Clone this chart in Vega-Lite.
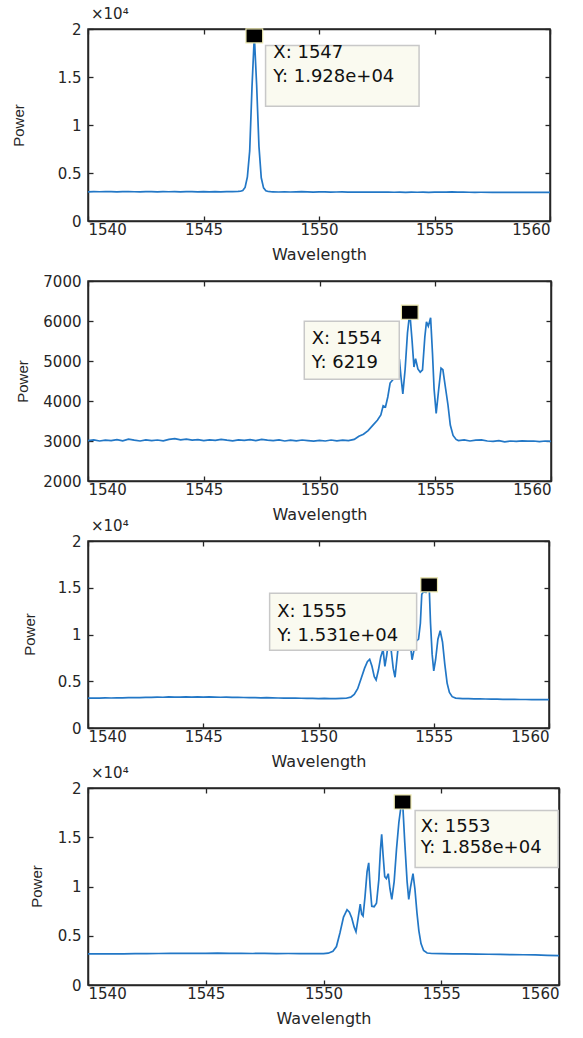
{
  "$schema": "https://vega.github.io/schema/vega-lite/v6.json",
  "padding": {"left": 10, "top": 6, "right": 5, "bottom": 5},
  "background": "white",
  "config": {
    "font": "DejaVu Sans",
    "view": {"stroke": "#262626", "strokeWidth": 1.5},
    "axis": {"grid": false, "domain": true, "domainColor": "#262626", "domainWidth": 1.5, "tickColor": "#262626", "tickSize": -5, "tickWidth": 1.3, "labelColor": "#262626", "labelFont": "DejaVu Sans", "labelFontSize": 15, "titleColor": "#262626", "titleFont": "DejaVu Sans", "titleFontSize": 16, "titleFontWeight": "normal"},
    "axisX": {"labelPadding": 6, "titlePadding": 9},
    "axisY": {"labelPadding": 12, "titleFont": "Liberation Sans", "titleFontSize": 15, "titleBaseline": "middle", "titleAngle": -90}
  },
  "datasets": {
    "p1": [
      {"x": 1540.0, "y": 3040}, {"x": 1540.25, "y": 3060}, {"x": 1540.5, "y": 3045}, {"x": 1540.75, "y": 3070}, {"x": 1541.0, "y": 3050},
      {"x": 1541.25, "y": 3030}, {"x": 1541.5, "y": 3055}, {"x": 1541.75, "y": 3075}, {"x": 1542.0, "y": 3045}, {"x": 1542.25, "y": 3030},
      {"x": 1542.5, "y": 3060}, {"x": 1542.75, "y": 3070}, {"x": 1543.0, "y": 3040}, {"x": 1543.25, "y": 3055}, {"x": 1543.5, "y": 3045},
      {"x": 1543.75, "y": 3065}, {"x": 1544.0, "y": 3035}, {"x": 1544.25, "y": 3055}, {"x": 1544.5, "y": 3070}, {"x": 1544.75, "y": 3040},
      {"x": 1545.0, "y": 3060}, {"x": 1545.25, "y": 3035}, {"x": 1545.5, "y": 3050}, {"x": 1545.75, "y": 3040}, {"x": 1546.0, "y": 3055},
      {"x": 1546.25, "y": 3060}, {"x": 1546.5, "y": 3080}, {"x": 1546.6, "y": 3100}, {"x": 1546.7, "y": 3170}, {"x": 1546.8, "y": 3500},
      {"x": 1546.9, "y": 4600}, {"x": 1547.0, "y": 7300}, {"x": 1547.1, "y": 14000}, {"x": 1547.2, "y": 19280}, {"x": 1547.3, "y": 14200},
      {"x": 1547.4, "y": 7800}, {"x": 1547.5, "y": 4500}, {"x": 1547.6, "y": 3450}, {"x": 1547.7, "y": 3150}, {"x": 1547.8, "y": 3070},
      {"x": 1547.9, "y": 3050}, {"x": 1548.0, "y": 3040}, {"x": 1548.25, "y": 3020}, {"x": 1548.5, "y": 3045}, {"x": 1548.75, "y": 3020},
      {"x": 1549.0, "y": 3035}, {"x": 1549.25, "y": 3050}, {"x": 1549.5, "y": 3025}, {"x": 1549.75, "y": 3010}, {"x": 1550.0, "y": 3030},
      {"x": 1550.25, "y": 3035}, {"x": 1550.5, "y": 3010}, {"x": 1550.75, "y": 3020}, {"x": 1551.0, "y": 3025}, {"x": 1551.25, "y": 3010},
      {"x": 1551.5, "y": 3020}, {"x": 1551.75, "y": 3005}, {"x": 1552.0, "y": 3015}, {"x": 1552.25, "y": 3000}, {"x": 1552.5, "y": 3010},
      {"x": 1552.75, "y": 3000}, {"x": 1553.0, "y": 3005}, {"x": 1553.25, "y": 2995}, {"x": 1553.5, "y": 3005}, {"x": 1553.75, "y": 2990},
      {"x": 1554.0, "y": 3000}, {"x": 1554.25, "y": 2995}, {"x": 1554.5, "y": 3000}, {"x": 1554.75, "y": 2990}, {"x": 1555.0, "y": 3000},
      {"x": 1555.25, "y": 3020}, {"x": 1555.5, "y": 3005}, {"x": 1555.75, "y": 3025}, {"x": 1556.0, "y": 3010}, {"x": 1556.25, "y": 3020},
      {"x": 1556.5, "y": 2995}, {"x": 1556.75, "y": 2990}, {"x": 1557.0, "y": 2995}, {"x": 1557.5, "y": 2990}, {"x": 1558.0, "y": 2985},
      {"x": 1558.5, "y": 2990}, {"x": 1559.0, "y": 2985}, {"x": 1559.5, "y": 2980}, {"x": 1560.0, "y": 2985}
    ],
    "p2": [
      {"x": 1540.0, "y": 3010}, {"x": 1540.25, "y": 3030}, {"x": 1540.5, "y": 3000}, {"x": 1540.75, "y": 3020}, {"x": 1541.0, "y": 3010},
      {"x": 1541.25, "y": 3035}, {"x": 1541.5, "y": 3005}, {"x": 1541.75, "y": 3045}, {"x": 1542.0, "y": 3020}, {"x": 1542.25, "y": 3000},
      {"x": 1542.5, "y": 3030}, {"x": 1542.75, "y": 3010}, {"x": 1543.0, "y": 3025}, {"x": 1543.25, "y": 3005}, {"x": 1543.5, "y": 3040},
      {"x": 1543.75, "y": 3060}, {"x": 1544.0, "y": 3030}, {"x": 1544.25, "y": 3045}, {"x": 1544.5, "y": 3020}, {"x": 1544.75, "y": 3035},
      {"x": 1545.0, "y": 3010}, {"x": 1545.25, "y": 3030}, {"x": 1545.5, "y": 3015}, {"x": 1545.75, "y": 3040}, {"x": 1546.0, "y": 3020},
      {"x": 1546.25, "y": 3005}, {"x": 1546.5, "y": 3030}, {"x": 1546.75, "y": 3015}, {"x": 1547.0, "y": 3035}, {"x": 1547.25, "y": 3010},
      {"x": 1547.5, "y": 3040}, {"x": 1547.75, "y": 3020}, {"x": 1548.0, "y": 3010}, {"x": 1548.25, "y": 3030}, {"x": 1548.5, "y": 3000},
      {"x": 1548.75, "y": 3020}, {"x": 1549.0, "y": 3005}, {"x": 1549.25, "y": 3025}, {"x": 1549.5, "y": 3010}, {"x": 1549.75, "y": 2995},
      {"x": 1550.0, "y": 3015}, {"x": 1550.25, "y": 3000}, {"x": 1550.5, "y": 3025}, {"x": 1550.75, "y": 3005}, {"x": 1551.0, "y": 3020},
      {"x": 1551.25, "y": 3010}, {"x": 1551.5, "y": 3040}, {"x": 1551.7, "y": 3120}, {"x": 1551.9, "y": 3170}, {"x": 1552.1, "y": 3260},
      {"x": 1552.3, "y": 3390}, {"x": 1552.5, "y": 3520}, {"x": 1552.65, "y": 3650}, {"x": 1552.75, "y": 3880}, {"x": 1552.85, "y": 3850},
      {"x": 1552.95, "y": 4100}, {"x": 1553.05, "y": 4450}, {"x": 1553.15, "y": 4520}, {"x": 1553.25, "y": 4580}, {"x": 1553.35, "y": 4800},
      {"x": 1553.45, "y": 5050}, {"x": 1553.52, "y": 4600}, {"x": 1553.6, "y": 4180}, {"x": 1553.7, "y": 4800}, {"x": 1553.8, "y": 5700},
      {"x": 1553.9, "y": 6219}, {"x": 1554.0, "y": 5500}, {"x": 1554.08, "y": 4850}, {"x": 1554.15, "y": 5060}, {"x": 1554.25, "y": 4800},
      {"x": 1554.35, "y": 4720}, {"x": 1554.45, "y": 4780}, {"x": 1554.55, "y": 5600}, {"x": 1554.62, "y": 5980}, {"x": 1554.7, "y": 5870},
      {"x": 1554.8, "y": 6080}, {"x": 1554.88, "y": 5200}, {"x": 1554.95, "y": 4300}, {"x": 1555.04, "y": 3690}, {"x": 1555.15, "y": 4300},
      {"x": 1555.25, "y": 4820}, {"x": 1555.33, "y": 4780}, {"x": 1555.45, "y": 4300}, {"x": 1555.55, "y": 3900}, {"x": 1555.65, "y": 3400},
      {"x": 1555.77, "y": 3140}, {"x": 1555.9, "y": 3040}, {"x": 1556.0, "y": 3010}, {"x": 1556.25, "y": 3030}, {"x": 1556.5, "y": 3000},
      {"x": 1556.75, "y": 3020}, {"x": 1557.0, "y": 3030}, {"x": 1557.25, "y": 3000}, {"x": 1557.5, "y": 2990}, {"x": 1557.75, "y": 3010},
      {"x": 1558.0, "y": 2980}, {"x": 1558.25, "y": 3000}, {"x": 1558.5, "y": 2990}, {"x": 1558.75, "y": 3005}, {"x": 1559.0, "y": 2995},
      {"x": 1559.25, "y": 3000}, {"x": 1559.5, "y": 2985}, {"x": 1559.75, "y": 3000}, {"x": 1560.0, "y": 2990}
    ],
    "p3": [
      {"x": 1540.0, "y": 3200}, {"x": 1540.25, "y": 3210}, {"x": 1540.5, "y": 3190}, {"x": 1540.75, "y": 3220}, {"x": 1541.0, "y": 3210},
      {"x": 1541.25, "y": 3230}, {"x": 1541.5, "y": 3220}, {"x": 1541.75, "y": 3240}, {"x": 1542.0, "y": 3250}, {"x": 1542.25, "y": 3240},
      {"x": 1542.5, "y": 3270}, {"x": 1542.75, "y": 3280}, {"x": 1543.0, "y": 3300}, {"x": 1543.25, "y": 3290}, {"x": 1543.5, "y": 3320},
      {"x": 1543.75, "y": 3300}, {"x": 1544.0, "y": 3310}, {"x": 1544.25, "y": 3330}, {"x": 1544.5, "y": 3310}, {"x": 1544.75, "y": 3320},
      {"x": 1545.0, "y": 3300}, {"x": 1545.25, "y": 3320}, {"x": 1545.5, "y": 3310}, {"x": 1545.75, "y": 3290}, {"x": 1546.0, "y": 3300},
      {"x": 1546.25, "y": 3280}, {"x": 1546.5, "y": 3270}, {"x": 1546.75, "y": 3260}, {"x": 1547.0, "y": 3250}, {"x": 1547.25, "y": 3240},
      {"x": 1547.5, "y": 3230}, {"x": 1547.75, "y": 3240}, {"x": 1548.0, "y": 3220}, {"x": 1548.25, "y": 3210}, {"x": 1548.5, "y": 3200},
      {"x": 1548.75, "y": 3200}, {"x": 1549.0, "y": 3190}, {"x": 1549.25, "y": 3180}, {"x": 1549.5, "y": 3170}, {"x": 1549.75, "y": 3160},
      {"x": 1550.0, "y": 3150}, {"x": 1550.25, "y": 3160}, {"x": 1550.5, "y": 3150}, {"x": 1550.75, "y": 3140}, {"x": 1551.0, "y": 3160},
      {"x": 1551.2, "y": 3180}, {"x": 1551.4, "y": 3300}, {"x": 1551.55, "y": 3600}, {"x": 1551.7, "y": 4200}, {"x": 1551.85, "y": 5300},
      {"x": 1552.0, "y": 6400}, {"x": 1552.12, "y": 7100}, {"x": 1552.22, "y": 7350}, {"x": 1552.32, "y": 6600}, {"x": 1552.42, "y": 5500},
      {"x": 1552.5, "y": 5150}, {"x": 1552.6, "y": 6200}, {"x": 1552.7, "y": 7600}, {"x": 1552.8, "y": 8400}, {"x": 1552.88, "y": 6600},
      {"x": 1552.96, "y": 7800}, {"x": 1553.04, "y": 9300}, {"x": 1553.14, "y": 8600}, {"x": 1553.24, "y": 6400}, {"x": 1553.32, "y": 5430},
      {"x": 1553.42, "y": 7800}, {"x": 1553.52, "y": 10200}, {"x": 1553.62, "y": 11000}, {"x": 1553.72, "y": 9800}, {"x": 1553.82, "y": 9400},
      {"x": 1553.92, "y": 10400}, {"x": 1554.0, "y": 8600}, {"x": 1554.06, "y": 7300}, {"x": 1554.14, "y": 8300}, {"x": 1554.24, "y": 9300},
      {"x": 1554.34, "y": 9500}, {"x": 1554.42, "y": 11200}, {"x": 1554.48, "y": 14300}, {"x": 1554.56, "y": 14600}, {"x": 1554.66, "y": 14500},
      {"x": 1554.74, "y": 14800}, {"x": 1554.8, "y": 15310}, {"x": 1554.86, "y": 11200}, {"x": 1554.93, "y": 7900}, {"x": 1555.0, "y": 6100},
      {"x": 1555.08, "y": 7300}, {"x": 1555.18, "y": 9500}, {"x": 1555.28, "y": 10400}, {"x": 1555.38, "y": 9200}, {"x": 1555.48, "y": 6800},
      {"x": 1555.58, "y": 4800}, {"x": 1555.68, "y": 3800}, {"x": 1555.8, "y": 3350}, {"x": 1555.95, "y": 3200}, {"x": 1556.25, "y": 3150},
      {"x": 1556.5, "y": 3140}, {"x": 1556.75, "y": 3120}, {"x": 1557.0, "y": 3110}, {"x": 1557.25, "y": 3100}, {"x": 1557.5, "y": 3090},
      {"x": 1557.75, "y": 3080}, {"x": 1558.0, "y": 3070}, {"x": 1558.25, "y": 3060}, {"x": 1558.5, "y": 3060}, {"x": 1558.75, "y": 3050},
      {"x": 1559.0, "y": 3050}, {"x": 1559.25, "y": 3040}, {"x": 1559.5, "y": 3040}, {"x": 1559.75, "y": 3030}, {"x": 1560.0, "y": 3030}
    ],
    "p4": [
      {"x": 1540.0, "y": 3150}, {"x": 1540.5, "y": 3160}, {"x": 1541.0, "y": 3170}, {"x": 1541.5, "y": 3160}, {"x": 1542.0, "y": 3180},
      {"x": 1542.5, "y": 3190}, {"x": 1543.0, "y": 3200}, {"x": 1543.5, "y": 3210}, {"x": 1544.0, "y": 3220}, {"x": 1544.5, "y": 3210},
      {"x": 1545.0, "y": 3220}, {"x": 1545.5, "y": 3230}, {"x": 1546.0, "y": 3210}, {"x": 1546.5, "y": 3220}, {"x": 1547.0, "y": 3200},
      {"x": 1547.5, "y": 3210}, {"x": 1548.0, "y": 3190}, {"x": 1548.5, "y": 3200}, {"x": 1549.0, "y": 3190}, {"x": 1549.5, "y": 3180},
      {"x": 1550.0, "y": 3190}, {"x": 1550.2, "y": 3230}, {"x": 1550.4, "y": 3420}, {"x": 1550.55, "y": 3900}, {"x": 1550.7, "y": 5300},
      {"x": 1550.85, "y": 6900}, {"x": 1551.0, "y": 7650}, {"x": 1551.1, "y": 7400}, {"x": 1551.2, "y": 6800}, {"x": 1551.3, "y": 5900},
      {"x": 1551.38, "y": 5400}, {"x": 1551.47, "y": 6800}, {"x": 1551.56, "y": 8200}, {"x": 1551.62, "y": 7200}, {"x": 1551.68, "y": 7000},
      {"x": 1551.76, "y": 8900}, {"x": 1551.85, "y": 11500}, {"x": 1551.92, "y": 12400}, {"x": 1551.98, "y": 10000}, {"x": 1552.05, "y": 8000},
      {"x": 1552.15, "y": 7950}, {"x": 1552.25, "y": 8300}, {"x": 1552.35, "y": 10700}, {"x": 1552.42, "y": 13800}, {"x": 1552.47, "y": 15300},
      {"x": 1552.53, "y": 13200}, {"x": 1552.6, "y": 11000}, {"x": 1552.67, "y": 10800}, {"x": 1552.75, "y": 11300}, {"x": 1552.82, "y": 9800},
      {"x": 1552.9, "y": 8700}, {"x": 1553.0, "y": 10500}, {"x": 1553.1, "y": 13800}, {"x": 1553.2, "y": 16500}, {"x": 1553.3, "y": 18300},
      {"x": 1553.36, "y": 18580}, {"x": 1553.45, "y": 14500}, {"x": 1553.55, "y": 10500}, {"x": 1553.62, "y": 8700}, {"x": 1553.7, "y": 10000},
      {"x": 1553.8, "y": 11300}, {"x": 1553.88, "y": 9800}, {"x": 1553.97, "y": 7300}, {"x": 1554.05, "y": 5500}, {"x": 1554.14, "y": 4200},
      {"x": 1554.25, "y": 3500}, {"x": 1554.4, "y": 3250}, {"x": 1554.6, "y": 3200}, {"x": 1555.0, "y": 3190}, {"x": 1555.5, "y": 3170},
      {"x": 1556.0, "y": 3150}, {"x": 1556.5, "y": 3140}, {"x": 1557.0, "y": 3120}, {"x": 1557.5, "y": 3100}, {"x": 1558.0, "y": 3090},
      {"x": 1558.5, "y": 3070}, {"x": 1559.0, "y": 3050}, {"x": 1559.5, "y": 3010}, {"x": 1560.0, "y": 2980}
    ],
    "tips": [
      {"panel": 1, "x": 1547.2, "y": 19280, "lx": "X: 1547", "ly": "Y: 1.928e+04"},
      {"panel": 2, "x": 1553.9, "y": 6219, "lx": "X: 1554", "ly": "Y: 6219"},
      {"panel": 3, "x": 1554.8, "y": 15310, "lx": "X: 1555", "ly": "Y: 1.531e+04"},
      {"panel": 4, "x": 1553.36, "y": 18580, "lx": "X: 1553", "ly": "Y: 1.858e+04"}
    ],
    "exps": [
      {"panel": 1, "x": 1540, "y": 20000, "t": "×10⁴"},
      {"panel": 3, "x": 1540, "y": 20000, "t": "×10⁴"},
      {"panel": 4, "x": 1540, "y": 20000, "t": "×10⁴"}
    ]
  },
  "bounds": "flush",
  "spacing": 60,
  "vconcat": [
    {
      "width": 462, "height": 192,
      "layer": [
        {"data": {"name": "p1"}, "mark": {"type": "line", "color": "#2277c6", "strokeWidth": 1.7, "clip": true},
         "encoding": {
           "x": {"field": "x", "type": "quantitative", "scale": {"domain": [1540, 1560], "nice": false, "zero": false}, "axis": {"orient": "bottom", "values": [1540, 1545, 1550, 1555, 1560], "format": "d", "title": "Wavelength"}},
           "y": {"field": "y", "type": "quantitative", "scale": {"domain": [0, 20000], "nice": false}, "axis": {"orient": "left", "values": [0, 5000, 10000, 15000, 20000], "labelExpr": "datum.value / 10000", "title": "Power", "titleX": -70, "titleY": 96}}
         }},
        {"data": {"name": "tips"}, "transform": [{"filter": "datum.panel == 1"}],
         "mark": {"type": "point", "shape": "M-1,-0.395H1V0.395H-1Z", "size": 23562, "filled": true, "fill": "#fafaf0", "stroke": "#c8c8c8", "strokeWidth": 1.5, "opacity": 1, "xOffset": 88, "yOffset": 40},
         "encoding": {"x": {"field": "x", "type": "quantitative", "scale": {"domain": [1540, 1560]}, "axis": null}, "y": {"field": "y", "type": "quantitative", "scale": {"domain": [0, 20000]}, "axis": null}}},
        {"data": {"name": "tips"}, "transform": [{"filter": "datum.panel == 1"}],
         "mark": {"type": "text", "align": "left", "baseline": "middle", "dx": 19, "dy": 17, "fontSize": 18, "color": "#111111"},
         "encoding": {"x": {"field": "x", "type": "quantitative", "scale": {"domain": [1540, 1560]}, "axis": null}, "y": {"field": "y", "type": "quantitative", "scale": {"domain": [0, 20000]}, "axis": null}, "text": {"field": "lx"}}},
        {"data": {"name": "tips"}, "transform": [{"filter": "datum.panel == 1"}],
         "mark": {"type": "text", "align": "left", "baseline": "middle", "dx": 19, "dy": 41, "fontSize": 18, "color": "#111111"},
         "encoding": {"x": {"field": "x", "type": "quantitative", "scale": {"domain": [1540, 1560]}, "axis": null}, "y": {"field": "y", "type": "quantitative", "scale": {"domain": [0, 20000]}, "axis": null}, "text": {"field": "ly"}}},
        {"data": {"name": "exps"}, "transform": [{"filter": "datum.panel == 1"}],
         "mark": {"type": "text", "align": "left", "baseline": "alphabetic", "dx": 3, "dy": -10, "fontSize": 15, "color": "#262626"},
         "encoding": {"x": {"field": "x", "type": "quantitative", "scale": {"domain": [1540, 1560]}, "axis": null}, "y": {"field": "y", "type": "quantitative", "scale": {"domain": [0, 20000]}, "axis": null}, "text": {"field": "t"}}},
        {"data": {"name": "tips"}, "transform": [{"filter": "datum.panel == 1"}],
         "mark": {"type": "point", "shape": "M-1,-0.84H1V0.84H-1Z", "size": 280, "filled": true, "fill": "#000000", "stroke": "#ece8b0", "strokeWidth": 1.2, "opacity": 1},
         "encoding": {
           "x": {"field": "x", "type": "quantitative", "scale": {"domain": [1540, 1560]}, "axis": {"orient": "top", "values": [1540, 1545, 1550, 1555, 1560], "labels": false, "title": null}},
           "y": {"field": "y", "type": "quantitative", "scale": {"domain": [0, 20000]}, "axis": {"orient": "right", "values": [0, 5000, 10000, 15000, 20000], "labels": false, "title": null}}
         }}
      ],
      "resolve": {"axis": {"x": "independent", "y": "independent"}}
    },
    {
      "width": 463, "height": 200,
      "layer": [
        {"data": {"name": "p2"}, "mark": {"type": "line", "color": "#2277c6", "strokeWidth": 1.7, "clip": true},
         "encoding": {
           "x": {"field": "x", "type": "quantitative", "scale": {"domain": [1540, 1560], "nice": false, "zero": false}, "axis": {"orient": "bottom", "values": [1540, 1545, 1550, 1555, 1560], "format": "d", "title": "Wavelength"}},
           "y": {"field": "y", "type": "quantitative", "scale": {"domain": [2000, 7000], "nice": false, "zero": false}, "axis": {"orient": "left", "values": [2000, 3000, 4000, 5000, 6000, 7000], "format": "d", "title": "Power", "titleX": -66, "titleY": 100}}
         }},
        {"data": {"name": "tips"}, "transform": [{"filter": "datum.panel == 2"}],
         "mark": {"type": "point", "shape": "M-1,-0.61H1V0.61H-1Z", "size": 9025, "filled": true, "fill": "#fafaf0", "stroke": "#c8c8c8", "strokeWidth": 1.5, "opacity": 1, "xOffset": -58, "yOffset": 38},
         "encoding": {"x": {"field": "x", "type": "quantitative", "scale": {"domain": [1540, 1560]}, "axis": null}, "y": {"field": "y", "type": "quantitative", "scale": {"domain": [2000, 7000], "zero": false}, "axis": null}}},
        {"data": {"name": "tips"}, "transform": [{"filter": "datum.panel == 2"}],
         "mark": {"type": "text", "align": "left", "baseline": "middle", "dx": -98, "dy": 27, "fontSize": 18, "color": "#111111"},
         "encoding": {"x": {"field": "x", "type": "quantitative", "scale": {"domain": [1540, 1560]}, "axis": null}, "y": {"field": "y", "type": "quantitative", "scale": {"domain": [2000, 7000], "zero": false}, "axis": null}, "text": {"field": "lx"}}},
        {"data": {"name": "tips"}, "transform": [{"filter": "datum.panel == 2"}],
         "mark": {"type": "text", "align": "left", "baseline": "middle", "dx": -98, "dy": 51, "fontSize": 18, "color": "#111111"},
         "encoding": {"x": {"field": "x", "type": "quantitative", "scale": {"domain": [1540, 1560]}, "axis": null}, "y": {"field": "y", "type": "quantitative", "scale": {"domain": [2000, 7000], "zero": false}, "axis": null}, "text": {"field": "ly"}}},
        {"data": {"name": "tips"}, "transform": [{"filter": "datum.panel == 2"}],
         "mark": {"type": "point", "shape": "M-1,-0.84H1V0.84H-1Z", "size": 280, "filled": true, "fill": "#000000", "stroke": "#ece8b0", "strokeWidth": 1.2, "opacity": 1},
         "encoding": {
           "x": {"field": "x", "type": "quantitative", "scale": {"domain": [1540, 1560]}, "axis": {"orient": "top", "values": [1540, 1545, 1550, 1555, 1560], "labels": false, "title": null}},
           "y": {"field": "y", "type": "quantitative", "scale": {"domain": [2000, 7000], "zero": false}, "axis": {"orient": "right", "values": [2000, 3000, 4000, 5000, 6000, 7000], "labels": false, "title": null}}
         }}
      ],
      "resolve": {"axis": {"x": "independent", "y": "independent"}}
    },
    {
      "width": 461, "height": 187,
      "layer": [
        {"data": {"name": "p3"}, "mark": {"type": "line", "color": "#2277c6", "strokeWidth": 1.7, "clip": true},
         "encoding": {
           "x": {"field": "x", "type": "quantitative", "scale": {"domain": [1540, 1560], "nice": false, "zero": false}, "axis": {"orient": "bottom", "values": [1540, 1545, 1550, 1555, 1560], "format": "d", "title": "Wavelength"}},
           "y": {"field": "y", "type": "quantitative", "scale": {"domain": [0, 20000], "nice": false}, "axis": {"orient": "left", "values": [0, 5000, 10000, 15000, 20000], "labelExpr": "datum.value / 10000", "title": "Power", "titleX": -59, "titleY": 93}}
         }},
        {"data": {"name": "tips"}, "transform": [{"filter": "datum.panel == 3"}],
         "mark": {"type": "point", "shape": "M-1,-0.388H1V0.388H-1Z", "size": 21609, "filled": true, "fill": "#fafaf0", "stroke": "#c8c8c8", "strokeWidth": 1.5, "opacity": 1, "xOffset": -86, "yOffset": 37},
         "encoding": {"x": {"field": "x", "type": "quantitative", "scale": {"domain": [1540, 1560]}, "axis": null}, "y": {"field": "y", "type": "quantitative", "scale": {"domain": [0, 20000]}, "axis": null}}},
        {"data": {"name": "tips"}, "transform": [{"filter": "datum.panel == 3"}],
         "mark": {"type": "text", "align": "left", "baseline": "middle", "dx": -152, "dy": 27, "fontSize": 18, "color": "#111111"},
         "encoding": {"x": {"field": "x", "type": "quantitative", "scale": {"domain": [1540, 1560]}, "axis": null}, "y": {"field": "y", "type": "quantitative", "scale": {"domain": [0, 20000]}, "axis": null}, "text": {"field": "lx"}}},
        {"data": {"name": "tips"}, "transform": [{"filter": "datum.panel == 3"}],
         "mark": {"type": "text", "align": "left", "baseline": "middle", "dx": -152, "dy": 51, "fontSize": 18, "color": "#111111"},
         "encoding": {"x": {"field": "x", "type": "quantitative", "scale": {"domain": [1540, 1560]}, "axis": null}, "y": {"field": "y", "type": "quantitative", "scale": {"domain": [0, 20000]}, "axis": null}, "text": {"field": "ly"}}},
        {"data": {"name": "exps"}, "transform": [{"filter": "datum.panel == 3"}],
         "mark": {"type": "text", "align": "left", "baseline": "alphabetic", "dx": 3, "dy": -10, "fontSize": 15, "color": "#262626"},
         "encoding": {"x": {"field": "x", "type": "quantitative", "scale": {"domain": [1540, 1560]}, "axis": null}, "y": {"field": "y", "type": "quantitative", "scale": {"domain": [0, 20000]}, "axis": null}, "text": {"field": "t"}}},
        {"data": {"name": "tips"}, "transform": [{"filter": "datum.panel == 3"}],
         "mark": {"type": "point", "shape": "M-1,-0.84H1V0.84H-1Z", "size": 280, "filled": true, "fill": "#000000", "stroke": "#ece8b0", "strokeWidth": 1.2, "opacity": 1},
         "encoding": {
           "x": {"field": "x", "type": "quantitative", "scale": {"domain": [1540, 1560]}, "axis": {"orient": "top", "values": [1540, 1545, 1550, 1555, 1560], "labels": false, "title": null}},
           "y": {"field": "y", "type": "quantitative", "scale": {"domain": [0, 20000]}, "axis": {"orient": "right", "values": [0, 5000, 10000, 15000, 20000], "labels": false, "title": null}}
         }}
      ],
      "resolve": {"axis": {"x": "independent", "y": "independent"}}
    },
    {
      "width": 471, "height": 197,
      "layer": [
        {"data": {"name": "p4"}, "mark": {"type": "line", "color": "#2277c6", "strokeWidth": 1.7, "clip": true},
         "encoding": {
           "x": {"field": "x", "type": "quantitative", "scale": {"domain": [1540, 1560], "nice": false, "zero": false}, "axis": {"orient": "bottom", "values": [1540, 1545, 1550, 1555, 1560], "format": "d", "title": "Wavelength"}},
           "y": {"field": "y", "type": "quantitative", "scale": {"domain": [0, 20000], "nice": false}, "axis": {"orient": "left", "values": [0, 5000, 10000, 15000, 20000], "labelExpr": "datum.value / 10000", "title": "Power", "titleX": -52, "titleY": 98}}
         }},
        {"data": {"name": "tips"}, "transform": [{"filter": "datum.panel == 4"}],
         "mark": {"type": "point", "shape": "M-1,-0.399H1V0.399H-1Z", "size": 20449, "filled": true, "fill": "#fafaf0", "stroke": "#c8c8c8", "strokeWidth": 1.5, "opacity": 1, "xOffset": 84, "yOffset": 37},
         "encoding": {"x": {"field": "x", "type": "quantitative", "scale": {"domain": [1540, 1560]}, "axis": null}, "y": {"field": "y", "type": "quantitative", "scale": {"domain": [0, 20000]}, "axis": null}}},
        {"data": {"name": "tips"}, "transform": [{"filter": "datum.panel == 4"}],
         "mark": {"type": "text", "align": "left", "baseline": "middle", "dx": 18, "dy": 25, "fontSize": 18, "color": "#111111"},
         "encoding": {"x": {"field": "x", "type": "quantitative", "scale": {"domain": [1540, 1560]}, "axis": null}, "y": {"field": "y", "type": "quantitative", "scale": {"domain": [0, 20000]}, "axis": null}, "text": {"field": "lx"}}},
        {"data": {"name": "tips"}, "transform": [{"filter": "datum.panel == 4"}],
         "mark": {"type": "text", "align": "left", "baseline": "middle", "dx": 18, "dy": 46, "fontSize": 18, "color": "#111111"},
         "encoding": {"x": {"field": "x", "type": "quantitative", "scale": {"domain": [1540, 1560]}, "axis": null}, "y": {"field": "y", "type": "quantitative", "scale": {"domain": [0, 20000]}, "axis": null}, "text": {"field": "ly"}}},
        {"data": {"name": "exps"}, "transform": [{"filter": "datum.panel == 4"}],
         "mark": {"type": "text", "align": "left", "baseline": "alphabetic", "dx": 3, "dy": -10, "fontSize": 15, "color": "#262626"},
         "encoding": {"x": {"field": "x", "type": "quantitative", "scale": {"domain": [1540, 1560]}, "axis": null}, "y": {"field": "y", "type": "quantitative", "scale": {"domain": [0, 20000]}, "axis": null}, "text": {"field": "t"}}},
        {"data": {"name": "tips"}, "transform": [{"filter": "datum.panel == 4"}],
         "mark": {"type": "point", "shape": "M-1,-0.84H1V0.84H-1Z", "size": 280, "filled": true, "fill": "#000000", "stroke": "#ece8b0", "strokeWidth": 1.2, "opacity": 1},
         "encoding": {
           "x": {"field": "x", "type": "quantitative", "scale": {"domain": [1540, 1560]}, "axis": {"orient": "top", "values": [1540, 1545, 1550, 1555, 1560], "labels": false, "title": null}},
           "y": {"field": "y", "type": "quantitative", "scale": {"domain": [0, 20000]}, "axis": {"orient": "right", "values": [0, 5000, 10000, 15000, 20000], "labels": false, "title": null}}
         }}
      ],
      "resolve": {"axis": {"x": "independent", "y": "independent"}}
    }
  ]
}
